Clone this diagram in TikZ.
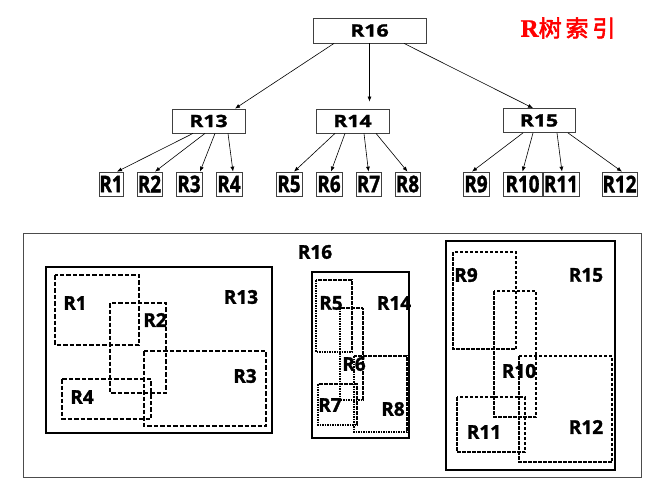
\documentclass[tikz,border=0pt]{standalone}
\usepackage{fontspec}
\setmainfont{Open Sans}[BoldFeatures={FakeBold=1.5}]
\newfontfamily\cjk[FakeBold=2.5]{Noto Sans CJK SC}
\newfontfamily\titleserif[FakeBold=1]{Liberation Serif}
\usetikzlibrary{arrows.meta}
\begin{document}
\begin{tikzpicture}[x=1pt,y=-1pt,
  tbox/.style={draw=black!75,line width=0.8pt,fill=white,inner sep=0pt,minimum height=24pt,
    font=\fontsize{17}{17}\selectfont\bfseries},
  leafbox/.style={draw=black!75,line width=0.7pt,fill=white,inner sep=0pt,minimum height=24pt,
    font=\fontsize{23}{23}\selectfont\bfseries},
  arr/.style={-{Latex[length=5pt,width=4pt]},line width=0.6pt,black},
  lbl/.style={inner sep=0pt,font=\fontsize{19}{19}\selectfont\bfseries},
  outerbox/.style={draw=black!70,line width=1pt},
  mbr/.style={draw=black,line width=1.4pt},
  dash13/.style={draw=black,line width=1.2pt,dash pattern=on 4.5pt off 2pt},
  dot14/.style={draw=black,line width=1.1pt,dash pattern=on 1.6pt off 0.9pt},
  dash15/.style={draw=black,line width=1.1pt,dash pattern=on 3.5pt off 1.5pt}
]
\useasboundingbox (0,0) rectangle (651,482);

% ---------- tree ----------
\newcommand{\wx}[1]{\scalebox{1.25}[1]{#1}}
\newcommand{\lx}[1]{\scalebox{0.82}[1]{#1}}
\node[tbox,minimum width=113pt,minimum height=25pt] (t16) at (369.5,30.5) {\wx{R16}};
\node[tbox,minimum width=73pt] (t13) at (208.5,121) {\wx{R13}};
\node[tbox,minimum width=73pt] (t14) at (352.5,121) {\wx{R14}};
\node[tbox,minimum width=72pt] (t15) at (539,120.5) {\wx{R15}};

\node[leafbox,minimum width=24pt] (t1) at (111,184) {\lx{R1}};
\node[leafbox,minimum width=25pt] (t2) at (149.5,184) {\lx{R2}};
\node[leafbox,minimum width=26pt] (t3) at (189,184) {\lx{R3}};
\node[leafbox,minimum width=26pt] (t4) at (229,184) {\lx{R4}};
\node[leafbox,minimum width=26pt] (t5) at (289,184) {\lx{R5}};
\node[leafbox,minimum width=26pt] (t6) at (329,184) {\lx{R6}};
\node[leafbox,minimum width=25pt] (t7) at (368.5,184) {\lx{R7}};
\node[leafbox,minimum width=25pt] (t8) at (407.5,184) {\lx{R8}};
\node[leafbox,minimum width=26pt] (t9) at (476,184) {\lx{R9}};
\node[leafbox,minimum width=39pt] (t10) at (522.5,184) {\lx{R10}};
\node[leafbox,minimum width=36pt] (t11) at (561,184) {\lx{R11}};
\node[leafbox,minimum width=35pt] (t12) at (619.5,184) {\lx{R12}};

\draw[arr] ([xshift=-35.5pt]t16.south) -- ([xshift=26.5pt]t13.north);
\draw[arr,shorten >=7pt] (t16.south) -- (t16.south |- t14.north);
\draw[arr] ([xshift=34.5pt]t16.south) -- ([xshift=-6pt]t15.north);

\draw[arr] ([xshift=-15.5pt]t13.south) -- ([xshift=6pt]t1.north);
\draw[arr] ([xshift=-3.5pt]t13.south) -- ([xshift=5.5pt]t2.north);
\draw[arr] ([xshift=6.5pt]t13.south) -- ([xshift=11pt]t3.north);
\draw[arr] ([xshift=19.5pt]t13.south) -- ([xshift=4pt]t4.north);

\draw[arr] ([xshift=-17.5pt]t14.south) -- ([xshift=5pt]t5.north);
\draw[arr] ([xshift=-7.5pt]t14.south) -- ([xshift=2pt]t6.north);
\draw[arr] ([xshift=11.5pt]t14.south) -- (t7.north);
\draw[arr] ([xshift=23.5pt]t14.south) -- (t8.north);

\draw[arr] ([xshift=-16pt]t15.south) -- ([xshift=-4pt]t9.north);
\draw[arr] ([xshift=-6pt]t15.south) -- (t10.north);
\draw[arr] ([xshift=18pt]t15.south) -- ([xshift=1pt]t11.north);
\draw[arr] ([xshift=29pt]t15.south) -- ([xshift=2.5pt]t12.north);

\node[inner sep=0pt,text=red] (title) at (568,28)
  {{\titleserif\bfseries\fontsize{25}{25}\selectfont R}{\cjk\fontsize{23}{23}\selectfont 树\,索\,引}};

% ---------- spatial layout ----------
\draw[outerbox] (23,233) rectangle (641,477);
\node[lbl] (l16) at (315,252) {R16};

\draw[mbr] (46,267) rectangle (272,433);
\draw[dash13] (55,275) rectangle (139,345);
\draw[dash13] (110,303) rectangle (166,393);
\draw[dash13] (144,351) rectangle (266,426);
\draw[dash13] (62,379) rectangle (151,419);
\node[lbl] (l13) at (241,297) {R13};
\node[lbl] (l1) at (75,303) {R1};
\node[lbl] (l2) at (155,320) {R2};
\node[lbl] (l3) at (245,376) {R3};
\node[lbl] (l4) at (82,397) {R4};

\draw[mbr] (312,272) rectangle (409,438);
\draw[dot14] (316,280) rectangle (352,352);
\draw[dot14] (340,308) rectangle (363,400);
\draw[dot14] (318,384) rectangle (357,425);
\draw[dot14] (354,356) rectangle (407,432);
\node[lbl] (l14) at (394,303) {R14};
\node[lbl] (l5) at (331,303) {R5};
\node[lbl] (l6) at (354,364) {R6};
\node[lbl] (l7) at (330,405) {R7};
\node[lbl] (l8) at (393,409) {R8};

\draw[mbr] (446,241) rectangle (615,470);
\draw[dash15] (453,252) rectangle (516,349);
\draw[dash15] (494,291) rectangle (536,417);
\draw[dash15] (457,397) rectangle (525,452);
\draw[dash15] (519,356) rectangle (612,462);
\node[lbl] (l15) at (586,275) {R15};
\node[lbl] (l9) at (466,275) {R9};
\node[lbl] (l10) at (519,371) {R10};
\node[lbl] (l11) at (484,432) {R11};
\node[lbl] (l12) at (586,427) {R12};
\end{tikzpicture}
\end{document}
